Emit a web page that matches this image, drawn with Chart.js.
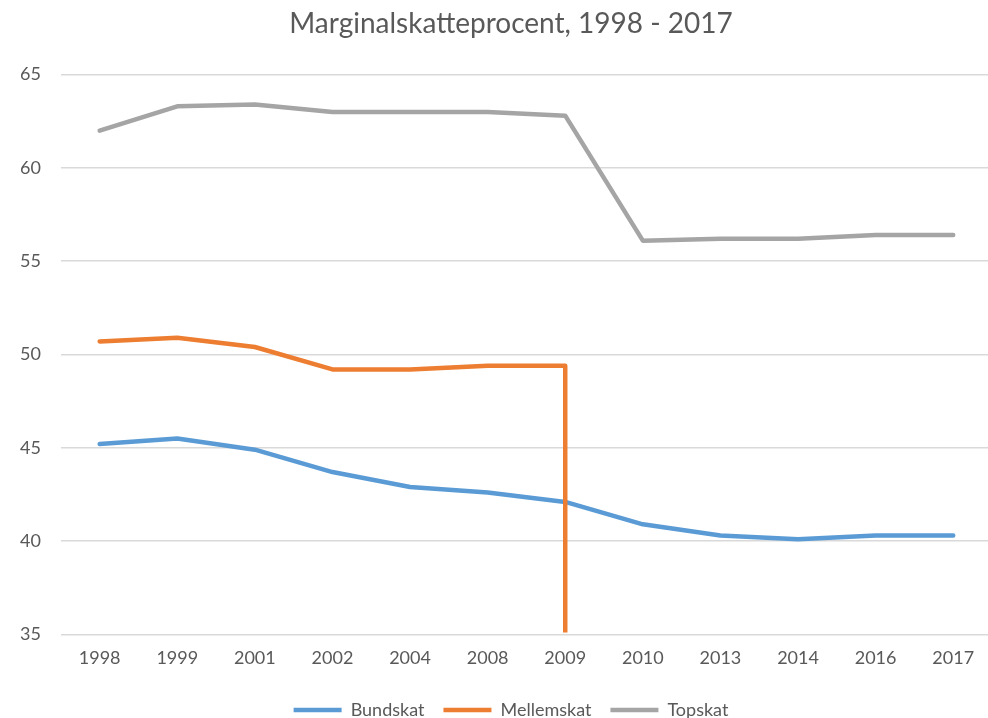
<!DOCTYPE html>
<html>
<head>
<meta charset="utf-8">
<script src="https://cdn.jsdelivr.net/npm/chart.js@4.4.1/dist/chart.umd.min.js"></script>
<style>
  html, body { margin: 0; padding: 0; background: #fff; overflow: hidden; }
  #wrap { width: 988px; height: 718px; overflow: hidden; }
</style>
</head>
<body>
<div id="wrap"><canvas id="chart" width="1022" height="718"></canvas></div>
<script>
// År på x-aksen
const years = ["1998", "1999", "2001", "2002", "2004", "2008", "2009", "2010", "2013", "2014", "2016", "2017"];

// Marginalskat i procent
const bundskat   = [45.2, 45.5, 44.9, 43.7, 42.9, 42.6, 42.1, 40.9, 40.3, 40.1, 40.3, 40.3];
const mellemskat = [50.7, 50.9, 50.4, 49.2, 49.2, 49.4, 49.4];   // afskaffet efter 2009
const topskat    = [62.0, 63.3, 63.4, 63.0, 63.0, 63.0, 62.8, 56.1, 56.2, 56.2, 56.4, 56.4];

// mellemskat falder til 0 i 2009 (lodret streg)
const mellemskatEnd = { x: "2009", y: 0 };

const yTicks = { min: 35, max: 65, step: 5 };

const TXT = "#595959";
const FONT = "Lato, 'Open Sans', sans-serif";

function line(label, color, values, order){
	return {
		label: label,
		data: values,
		borderColor: color,
		backgroundColor: color,
		borderWidth: 4.5,
		borderCapStyle: "round",
		borderJoinStyle: "round",
		pointRadius: 0,
		pointHoverRadius: 0,
		tension: 0,
		order: order,
		clip: { left: 5, top: 5, right: 5, bottom: -2 }
	};
}

const mellemData = mellemskat.map((v, i) => ({ x: years[i], y: v }));
mellemData.push(mellemskatEnd);

new Chart(document.getElementById("chart"), {
	type: "line",
	data: {
		labels: years,
		datasets: [
			line("Bundskat", "#5B9BD5", bundskat, 3),
			line("Mellemskat", "#ED7D31", mellemData, 2),
			line("Topskat", "#A5A5A5", topskat, 1)
		]
	},
	options: {
		responsive: false,
		animation: false,
		layout: { padding: { left: 0, right: 0, top: 0, bottom: -11 } },
		plugins: {
			title: {
				display: true,
				text: "Marginalskatteprocent, 1998 - 2017",
				color: TXT,
				font: { family: FONT, size: 28, weight: "normal" },
				padding: { top: 7, bottom: 34 }
			},
			legend: {
				position: "bottom",
				labels: {
					color: TXT,
					font: { family: FONT, size: 18 },
					usePointStyle: true,
					pointStyle: "line",
					pointStyleWidth: 48,
					padding: 19,
					sort: (a, b) => a.datasetIndex - b.datasetIndex
				}
			},
			tooltip: { enabled: false }
		},
		scales: {
			x: {
				offset: true,
				grid: { display: false, drawTicks: false },
				border: { display: false },
				ticks: { color: TXT, font: { family: FONT, size: 18 }, padding: 13, maxRotation: 0 }
			},
			y: {
				min: yTicks.min,
				max: yTicks.max,
				grid: { color: "#D9D9D9", lineWidth: 1.5, drawTicks: false },
				border: { display: false },
				ticks: { stepSize: yTicks.step, color: TXT, font: { family: FONT, size: 18 }, padding: 20 }
			},
			// tom akse til højre, så titel og forklaring centreres over hele figuren
			yRight: {
				position: "right",
				min: yTicks.min,
				max: yTicks.max,
				grid: { display: false, drawTicks: false },
				border: { display: false },
				ticks: { display: false },
				afterFit: s => { s.width = 30; }
			}
		}
	}
});
</script>
</body>
</html>
